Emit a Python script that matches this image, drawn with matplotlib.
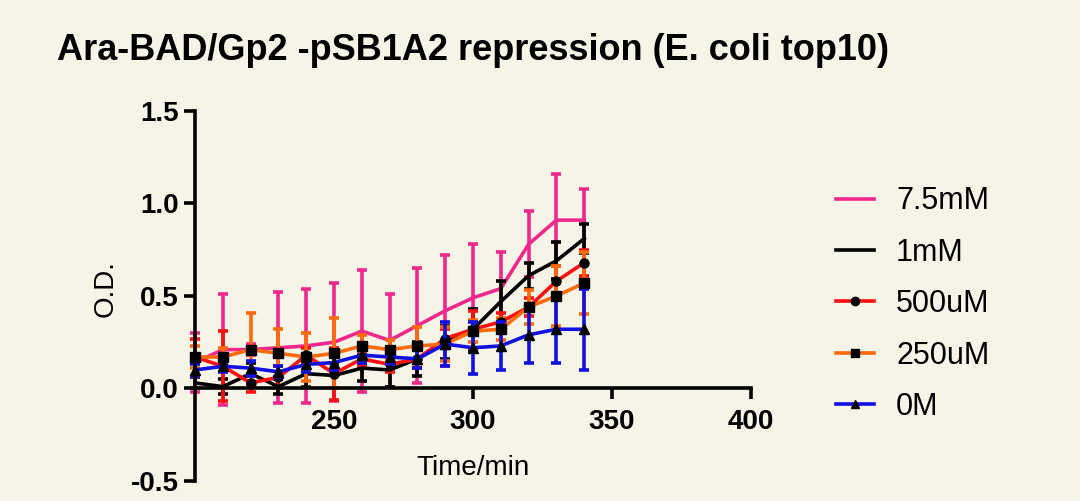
import numpy as np
import matplotlib.pyplot as plt
from matplotlib.lines import Line2D

plt.rcParams['font.family'] = ['Liberation Sans', 'DejaVu Sans']

# time points (min)
time = [200, 210, 220, 230, 240, 250, 260, 270, 280, 290, 300, 310, 320, 330, 340]

# O.D. means and error bars
od_75mM = [0.14, 0.21, 0.21, 0.22, 0.23, 0.25, 0.31, 0.26, 0.34, 0.42, 0.49, 0.54, 0.78, 0.91, 0.91]
err_75mM = [0.16, 0.30, 0.03, 0.30, 0.31, 0.32, 0.33, 0.25, 0.31, 0.30, 0.29, 0.20, 0.18, 0.25, 0.17]

od_1mM = [0.03, 0.01, 0.08, 0.01, 0.08, 0.07, 0.11, 0.10, 0.16, 0.25, 0.32, 0.47, 0.61, 0.69, 0.81]
err_1mM = [0.03, 0.04, 0.06, 0.04, 0.07, 0.07, 0.07, 0.09, 0.09, 0.09, 0.11, 0.11, 0.07, 0.10, 0.08]

od_500uM = [0.17, 0.12, 0.03, 0.06, 0.18, 0.08, 0.16, 0.13, 0.16, 0.27, 0.32, 0.36, 0.44, 0.58, 0.68]
err_500uM = [0.10, 0.19, 0.05, 0.06, 0.04, 0.14, 0.04, 0.04, 0.05, 0.05, 0.10, 0.05, 0.05, 0.08, 0.07]

od_250uM = [0.17, 0.17, 0.21, 0.19, 0.17, 0.19, 0.23, 0.21, 0.23, 0.24, 0.31, 0.32, 0.44, 0.50, 0.57]
err_250uM = [0.06, 0.05, 0.20, 0.13, 0.13, 0.19, 0.06, 0.05, 0.10, 0.09, 0.06, 0.06, 0.09, 0.16, 0.17]

od_0M = [0.10, 0.12, 0.11, 0.09, 0.13, 0.14, 0.18, 0.17, 0.16, 0.24, 0.22, 0.23, 0.29, 0.32, 0.32]
err_0M = [0.03, 0.03, 0.04, 0.03, 0.04, 0.04, 0.04, 0.04, 0.05, 0.12, 0.14, 0.13, 0.15, 0.18, 0.22]

labels = ['7.5mM', '1mM', '500uM', '250uM', '0M']
colors = ['#f0288c', '#000000', '#ff1010', '#ff6a0a', '#1010e0']
markers = [None, None, 'o', 's', '^']

bg = '#f6f4e7'
fig = plt.figure(figsize=(10.8, 5.01), dpi=100, facecolor=bg)
ax = fig.add_axes([0.1806, 0.04, 0.5148, 0.7385], facecolor=bg)

series = [(od_75mM, err_75mM), (od_1mM, err_1mM), (od_500uM, err_500uM),
          (od_250uM, err_250uM), (od_0M, err_0M)]
order = [0, 4, 3, 2, 1]
for i in order:
    y, e = series[i]
    ax.errorbar(time, y, yerr=e, color=colors[i], lw=2.6, elinewidth=2.6,
                capsize=3.5, capthick=2.6, marker=markers[i], ms=6.5,
                mfc='black', mec='black', zorder=2 + i * 0.1, clip_on=False)

ax.set_xlim(200, 400)
ax.set_ylim(-0.5, 1.5)
ax.spines['top'].set_visible(False)
ax.spines['right'].set_visible(False)
ax.spines['bottom'].set_position(('data', 0))
ax.spines['left'].set_linewidth(2.6)
ax.spines['bottom'].set_linewidth(2.6)
ax.set_xticks([250, 300, 350, 400])
ax.set_yticks([-0.5, 0.0, 0.5, 1.0, 1.5])
ax.set_yticklabels(['-0.5', '0.0', '0.5', '1.0', '1.5'])
ax.tick_params(axis='both', width=2.6, length=8, labelsize=20, direction='out')
ax.tick_params(axis='x', pad=7)
for t in ax.get_xticklabels() + ax.get_yticklabels():
    t.set_fontweight('bold')

ax.set_xlabel('Time/min', fontsize=20)
ax.xaxis.set_label_coords(0.5, 0.07)
ax.set_ylabel('O.D.', fontsize=20)
ax.yaxis.set_label_coords(-0.137, 0.52)

fig.text(0.053, 0.9, 'Ara-BAD/Gp2 -pSB1A2 repression (E. coli top10)',
         fontsize=26, fontweight='bold', va='center', ha='left')

handles = [Line2D([], [], color=colors[i], lw=2.6, marker=markers[i], ms=6,
                  mfc='black', mec='black') for i in range(5)]
fig.legend(handles, labels, loc='upper left', bbox_to_anchor=(0.774, 0.628),
           frameon=False, fontsize=22, handlelength=1.25, handletextpad=0.72,
           labelspacing=0.7, borderpad=0, borderaxespad=0)

fig.savefig('out.png', dpi=100, facecolor=bg)
